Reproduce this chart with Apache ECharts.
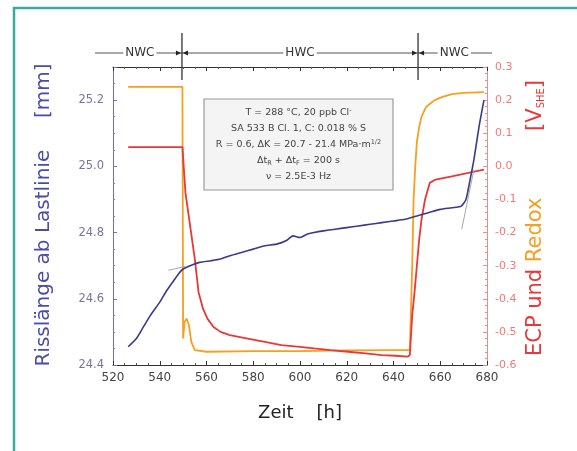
<!DOCTYPE html>
<html><head><meta charset="utf-8">
<script src="https://cdn.jsdelivr.net/npm/echarts@6/dist/echarts.min.js"></script>
<style>html,body{margin:0;padding:0;background:#fff;}#c{width:577px;height:451px;}</style>
</head><body><div id="c"></div>
<script>
// ---- data ----
const crackHours = [526.5,530,533,536,540,543,546,548,550,553,557,562,566,570,575,580,585,590,594,597,600,603,606,610,615,620,625,630,635,640,645,650,655,660,665,669,671,672.5,674.4,676.6,678.7];
const crackMm    = [24.455,24.48,24.515,24.55,24.59,24.625,24.655,24.675,24.69,24.70,24.71,24.715,24.72,24.73,24.74,24.75,24.76,24.765,24.775,24.79,24.785,24.795,24.80,24.805,24.81,24.815,24.82,24.825,24.83,24.835,24.84,24.85,24.86,24.87,24.875,24.88,24.90,24.95,25.02,25.12,25.20];
const ecpHours = [526.5,549.7,551,553,555,556.6,558.5,560.4,563,566,570,577.6,585,592,600,606,613,620.6,628,635,641,646,647,648,649,650,651,652,653.5,655.5,658,665,672,678.7];
const ecpV     = [0.058,0.058,-0.08,-0.18,-0.28,-0.38,-0.43,-0.46,-0.485,-0.50,-0.51,-0.52,-0.53,-0.54,-0.545,-0.55,-0.555,-0.56,-0.565,-0.57,-0.572,-0.575,-0.57,-0.45,-0.38,-0.30,-0.22,-0.16,-0.10,-0.05,-0.04,-0.03,-0.02,-0.01];
const redoxHours = [526.5,549.7,550.0,550.6,551.5,552.5,553.5,555,560,580,600,620,640,647,648,648.6,649.3,650,651,652,654,657.6,661,665,670,678.7];
const redoxV     = [0.24,0.24,-0.52,-0.47,-0.46,-0.48,-0.53,-0.555,-0.56,-0.558,-0.558,-0.556,-0.555,-0.555,-0.3,-0.1,0.0,0.073,0.12,0.15,0.18,0.20,0.21,0.218,0.222,0.224];
const fitAHours = [543.7,551], fitAMm = [24.686,24.698];
const fitBHours = [669.2,674.4], fitBMm = [24.81,24.99];
const regimeLabels = ['NWC','HWC','NWC'];
const regimeBounds = [549.5, 650.5];
const regimeCenters = [531.5, 600, 666];

const pairs = (xs, ys) => xs.map((x, i) => [x, ys[i]]);
const FF = 'DejaVu Sans, Verdana, sans-serif';
const chart = echarts.init(document.getElementById('c'), null, {renderer:'canvas'});

const xCommon = {
  type:'value', min:520, max:680, interval:20,
  splitLine:{show:false},
  axisLine:{onZero:false, lineStyle:{color:'#333', width:1}},
  axisTick:{inside:true, length:4, lineStyle:{color:'#333'}},
  minorTick:{show:true, splitNumber:4, length:2, lineStyle:{color:'#555'}},
};

chart.setOption({
  backgroundColor:'#fff',
  animation:false,
  grid:{left:113, right:90, top:67, bottom:86},
  xAxis:[
    Object.assign({}, xCommon, {position:'bottom',
      axisLabel:{color:'#444', fontSize:12, fontFamily:FF, margin:7},
      name:'Zeit    [h]', nameLocation:'middle', nameGap:39,
      nameTextStyle:{color:'#222', fontSize:18, fontFamily:FF}}),
    Object.assign({}, xCommon, {position:'top', axisLabel:{show:false}})
  ],
  yAxis:[
    {type:'value', position:'left', min:24.4, max:25.3, interval:0.2,
     splitLine:{show:false},
     axisLine:{show:true, onZero:false, lineStyle:{color:'#7070b8', width:1}},
     axisTick:{inside:true, length:4, lineStyle:{color:'#7070b8'}},
     minorTick:{show:true, splitNumber:4, length:2, lineStyle:{color:'#8080c0'}},
     axisLabel:{color:'#7474a4', fontSize:11.5, fontFamily:FF, margin:9, showMaxLabel:false,
       formatter:v=>v.toFixed(1)}},
    {type:'value', position:'right', min:-0.6, max:0.3, interval:0.1,
     splitLine:{show:false},
     axisLine:{show:true, onZero:false, lineStyle:{color:'#f08a8a', width:1}},
     axisTick:{inside:true, length:4, lineStyle:{color:'#f08a8a'}},
     minorTick:{show:true, splitNumber:5, length:2, lineStyle:{color:'#f08a8a'}},
     axisLabel:{color:'#f07a7a', fontSize:11, fontFamily:FF, margin:8,
       formatter:v=>v.toFixed(1)}}
  ],
  series:[
    {type:'line', name:'Redox', yAxisIndex:1, data:pairs(redoxHours, redoxV), showSymbol:false,
     lineStyle:{color:'#f5a020', width:1.8}, z:2},
    {type:'line', name:'ECP', yAxisIndex:1, data:pairs(ecpHours, ecpV), showSymbol:false,
     lineStyle:{color:'#e83838', width:1.8}, z:3},
    {type:'line', name:'FitA', yAxisIndex:0, data:pairs(fitAHours, fitAMm), showSymbol:false,
     lineStyle:{color:'#a8a8a8', width:1}, z:3},
    {type:'line', name:'FitB', yAxisIndex:0, data:pairs(fitBHours, fitBMm), showSymbol:false,
     lineStyle:{color:'#a8a8a8', width:1}, z:3},
    {type:'line', name:'Risslänge', yAxisIndex:0, data:pairs(crackHours, crackMm), showSymbol:false, smooth:0.2,
     lineStyle:{color:'#3a3a8c', width:1.6}, z:4}
  ]
});

// ---- annotations ----
const px = h => chart.convertToPixel({xAxisIndex:0}, h);
const bandY = 53;
const g = [];
g.push({type:'rect', shape:{x:14, y:8, width:620, height:520}, style:{fill:'none', stroke:'#3aaa9a', lineWidth:2.5}, silent:true});
const xL = 95, xR = 492;
g.push({type:'line', shape:{x1:xL, y1:bandY, x2:xR, y2:bandY}, style:{stroke:'#555', lineWidth:1}});
regimeBounds.forEach(h => {
  const x = px(h);
  g.push({type:'line', shape:{x1:x, y1:33, x2:x, y2:80}, style:{stroke:'#222', lineWidth:1.2}});
  g.push({type:'polygon', shape:{points:[[x-1,bandY],[x-6,bandY-2.5],[x-6,bandY+2.5]]}, style:{fill:'#222'}});
  g.push({type:'polygon', shape:{points:[[x+1,bandY],[x+6,bandY-2.5],[x+6,bandY+2.5]]}, style:{fill:'#222'}});
});
regimeLabels.forEach((t, i) => {
  g.push({type:'text', x:px(regimeCenters[i]), y:bandY, style:{text:t, fill:'#333', font:'12px '+FF,
    align:'center', verticalAlign:'middle', backgroundColor:'#fff', padding:[0,2]}, z:10});
});
g.push({type:'rect', shape:{x:204, y:99, width:189, height:91}, style:{fill:'#f4f4f4', stroke:'#9a9a9a', lineWidth:1.2}, z:20});
const boxCx = 298.5;
const rich = {
  b:{fontSize:9.5, fill:'#444', fontFamily:FF},
  s:{fontSize:6.5, fill:'#444', fontFamily:FF, verticalAlign:'bottom', padding:[4,0,0,0]},
  u:{fontSize:6.5, fill:'#444', fontFamily:FF, padding:[0,0,6,0]}
};
const infoTexts = [
  '{b|T = 288 °C, 20 ppb Cl}{u|-}',
  '{b|SA 533 B Cl. 1, C: 0.018 % S}',
  '{b|R = 0.6, ΔK = 20.7 - 21.4 MPa·m}{u|1/2}',
  '{b|Δt}{s|R}{b| + Δt}{s|F}{b| = 200 s}',
  '{b|ν = 2.5E-3 Hz}'
];
[113,129,145,161,177].forEach((y, i) => {
  g.push({type:'text', x:boxCx, y:y, z:21, style:{text:infoTexts[i], rich:rich, align:'center', verticalAlign:'middle', fill:'#444', font:'9.5px '+FF}});
});
g.push({type:'text', x:44, y:215, rotation:Math.PI/2, style:{text:'Risslänge ab Lastlinie     [mm]', fill:'#4b4baa',
  font:'20px '+FF, align:'center', verticalAlign:'middle'}});
g.push({type:'text', x:536, y:218, rotation:Math.PI/2, style:{
  text:'{r|ECP und }{o|Redox}{r|          [V}{sub|SHE}{r|]}',
  align:'center', verticalAlign:'middle',
  rich:{
    r:{fill:'#e83838', fontSize:21, fontFamily:FF},
    o:{fill:'#f5a020', fontSize:21, fontFamily:FF},
    sub:{fill:'#e83838', fontSize:10, fontFamily:FF, verticalAlign:'bottom', padding:[8,0,0,0]}
  }}});
chart.setOption({graphic:{elements:g}});
</script>
</body></html>
